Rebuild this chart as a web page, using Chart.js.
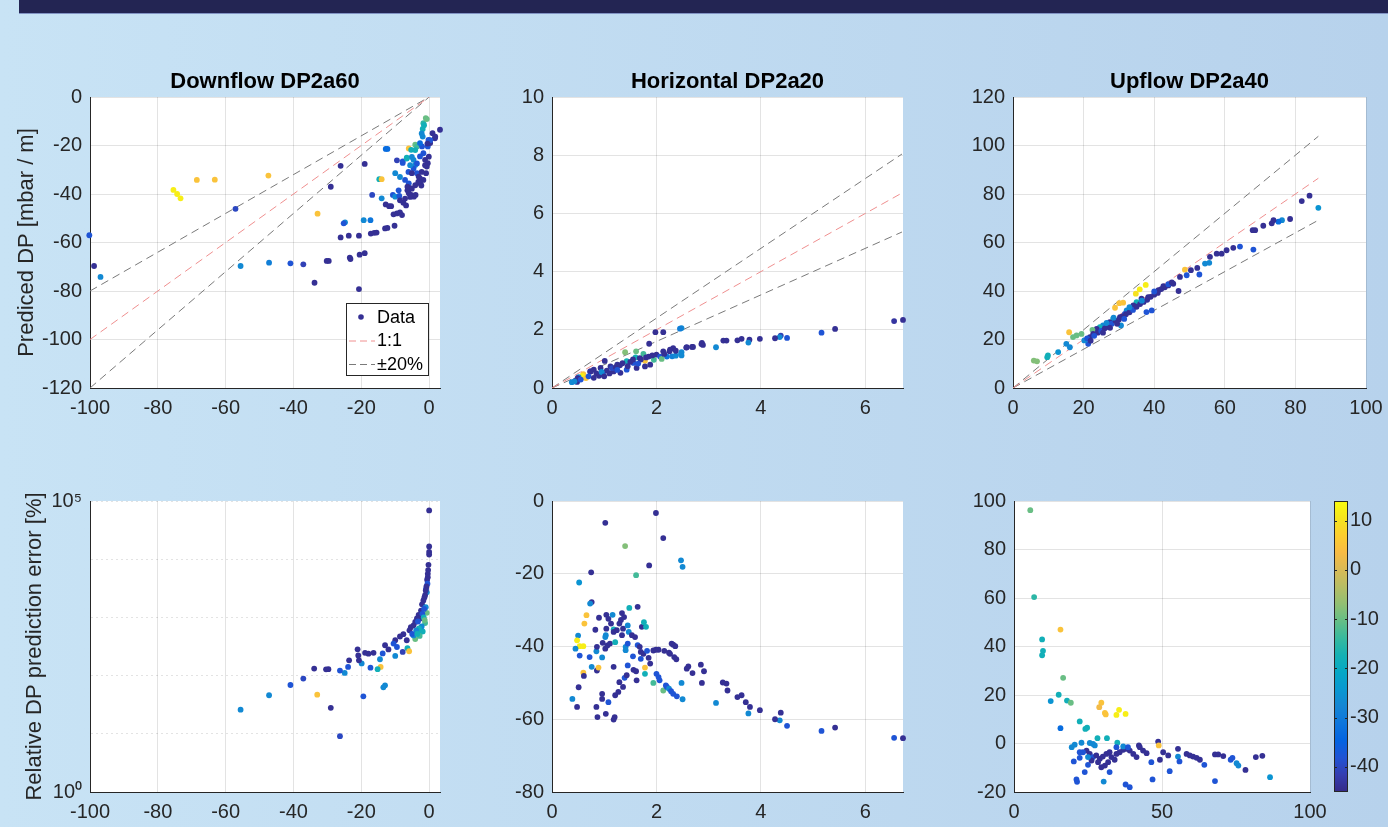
<!DOCTYPE html>
<html>
<head>
<meta charset="utf-8">
<script src="https://cdn.jsdelivr.net/npm/chart.js@4.4.0/dist/chart.umd.min.js"></script>
<style>
html, body { margin: 0; overflow: hidden; }
body {
    width: 1388px; height: 827px; position: relative;
    background: linear-gradient(to right, #c8e3f5, #b7d2ec);
}
#bar { position: absolute; left: 19px; top: 0; width: 1369px; height: 13px; background: #232553; border-bottom: 1px solid #8193c4; }
canvas { position: absolute; }
</style>
</head>
<body>
<div id="bar"></div>
<script>
// ---- data: [measured, predicted or error, colour value] ----
const colorLimits = [-45.1, 14];
const colorTicks = [-40, -30, -20, -10, 0, 10];
const panelTitles = ['Downflow DP2a60', 'Horizontal DP2a20', 'Upflow DP2a40'];
const yTitles = ['Prediced DP [mbar / m]', 'Relative DP prediction error [%]'];
const legendLabels = ['Data', '1:1', '\u00b120%'];
const errTicks = [1, 10, 100, 1000, 10000, 100000];

const downRefX = [-100, 0], downRef11 = [-100, 0], downRefHi = [-120, 0], downRefLo = [-80, 0];
const horRefX = [0, 6.7], horRef11 = [0, 6.7], horRefHi = [0, 8.04], horRefLo = [0, 5.36];
const upRefX = [0, 86.5], upRef11 = [0, 86.5], upRefHi = [0, 103.8], upRefLo = [0, 69.2];

const downPred = [
    [-100.2,-57,-38],[-98.8,-69.7,-44],[-96.9,-74.2,-27],[-75.4,-38.3,12],[-74.3,-40,12],[-73.3,-41.8,12],
    [-68.5,-34.2,5],[-63.2,-34.1,5],[-47.4,-32.4,5],[-57.1,-46.1,-40],[-55.6,-69.7,-27],[-47.2,-68.3,-29],
    [-40.9,-68.6,-38],[-37.1,-69,-41],[-33.8,-76.6,-44],[-32.9,-48.1,5],[-30.2,-67.6,-44],[-29.6,-67.6,-44],
    [-29,-37,-44],[-26.1,-28.4,-44],[-26.1,-57.9,-44],[-24.8,-51.7,-27],[-25.2,-52.1,-38],[-23.7,-57.2,-44],
    [-23.4,-66.2,-44],[-23.2,-66.8,-44],[-20.7,-57.2,-44],[-20.5,-65,-44],[-19,-64.4,-44],[-20.7,-79.2,-44],
    [-19,-27.6,-44],[-19.3,-50.8,-27],[-17.3,-50.8,-31],[-16.8,-40.4,-40],[-17.2,-56.3,-44],[-16.2,-56,-44],
    [-15.5,-55.9,-44],[-14.7,-33.9,-18],[-14,-33.9,5],[-14,-41.8,-27],[-12.8,-21.4,-33],[-12.3,-21.4,-33],
    [-13,-54.2,-44],[-12.3,-54,-44],[-12.8,-44.3,-44],[-11.8,-45,-44],[-11.2,-45,-44],[-10.2,-53.1,-44],
    [-10.7,-40.4,-38],[-10,-31.4,-27],[-10,-41.1,-27],[-8.8,-40.8,-38],[-10.5,-48.4,-44],[-9.5,-48,-44],
    [-8.6,-47.6,-44],[-8,-48.7,-44],[-7.6,-43.6,-44],[-7.8,-26.6,-38],[-7.1,-34.2,-38],[-6.6,-25,-18],
    [-6,-21.2,5],[-6,-35.6,-38],[-6.4,-37,-44],[-5.6,-37.6,-44],[-6,-39.7,-44],[-5.3,-40.4,-44],
    [-4.5,-41.1,-44],[-4,-40.4,-44],[-5.3,-21.8,-18],[-4.1,-19.7,-10],[-3.6,-20.4,-13],[-4.6,-25.9,-27],
    [-4.1,-28,-27],[-4.6,-29.5,-38],[-3.6,-31.4,-38],[-3.1,-32.8,-44],[-2.8,-34.2,-44],[-2.6,-35.6,-44],
    [-2.3,-36.5,-44],[-1.7,-34.2,-44],[-1.9,-16.3,-27],[-1.9,-13.2,-18],[-1.7,-10.8,-15],[-1,-8.7,-10],
    [-0.7,-9.1,-10],[-2.1,-20.4,-38],[-1.7,-23.2,-38],[-1.2,-25.9,-44],[-0.7,-28.7,-44],[-0.9,-31.4,-44],
    [-0.4,-20.4,-38],[-0.2,-17.7,-38],[-0.1,-24.6,-44],[-0.4,-27.3,-44],[0.3,-19,-44],[1,-14.9,-44],
    [1.7,-17,-44],[3.2,-13.5,-44],[1.8,-16.4,-44],[0.3,-17.8,-38],[-1.5,-11.6,-18],[-2.2,-15,-27],
    [-2.7,-19,-33],[-4.1,-21.9,-18],[-5.1,-24.7,-27],[-6.6,-25.4,-18],[-7.8,-27.2,-38],[-5.6,-28.1,-27],
    [-6.1,-30.9,-38],[-5.1,-31.4,-44],[-3.6,-27.4,-38],[-2.7,-24.5,-38],[-0.5,-19.2,-44],[-1.2,-28.1,-44],
    [-2.2,-30.9,-44],[-2.7,-33.6,-44],[-3.2,-35,-44],[-4.1,-36.4,-44],[-5.1,-37.8,-44],[-6.4,-38.5,-44],
    [-5.6,-41.2,-44],[-7.1,-41.9,-44],[-8.6,-42.6,-44],[-6.8,-44.7,-44],[-9,-38.5,-38],[-8.6,-33,-27],
    [-9.5,-26.1,-41]
];

const horPred = [
    [6.72,2.34,-44],[6.55,2.3,-43],[5.42,2.03,-44],[5.16,1.9,-38],[4.5,1.72,-38],[4.38,1.8,-41],
    [4.36,1.75,-27],[4.27,1.71,-44],[3.98,1.69,-44],[3.78,1.66,-44],[3.76,1.56,-27],[3.63,1.69,-44],
    [3.55,1.64,-44],[3.34,1.63,-44],[3.28,1.63,-44],[3.14,1.4,-27],[2.87,1.55,-44],[2.89,1.48,-44],
    [2.68,1.41,-44],[2.58,1.4,-44],[2.48,2.06,-27],[2.45,2.04,-29],[2.48,1.23,-27],[2.48,1.12,-27],
    [2.32,1.37,-44],[2.26,1.32,-44],[2.13,1.26,-44],[2.13,1.92,-44],[1.98,1.92,-44],[1.86,1.52,-44],
    [2.0,1.15,-44],[2.07,1.08,-38],[2.2,1.08,-31],[2.3,1.09,-29],[2.37,1.11,-27],[1.95,0.97,-13],
    [2.1,1.0,-10],[1.78,0.94,5],[1.75,1.17,-13],[1.4,1.23,-8],[1.61,1.26,-10],[1.6,1.05,-18],
    [1.01,0.93,-44],[0.73,0.57,-44],[0.6,0.48,5],[0.62,0.37,5],[0.58,0.42,12],[0.51,0.37,-27],
    [0.38,0.2,-27],[0.45,0.25,-44],[0.48,0.21,-44],[2.86,1.51,-44],[2.7,1.41,-44],[2.57,1.39,-44],
    [2.37,1.28,-44],[2.25,1.26,-44],[2.15,1.17,-44],[2.47,1.17,-27],[1.68,1.03,-44],[1.56,0.86,-38],
    [1.43,0.92,-18],[1.25,0.8,-44],[1.12,0.74,-44],[0.93,0.69,-44],[0.8,0.63,-44],[0.74,0.57,-44],
    [0.65,0.34,5],[0.49,0.34,-44],[0.43,0.23,-27],[0.55,0.29,-38],[0.98,0.46,-38],[1.18,0.57,-44],
    [1.31,0.52,-44],[1.43,0.63,-38],[1.62,0.69,-44],[1.78,0.74,-44],[1.88,0.8,-44],[0.85,0.5,-44],
    [0.9,0.42,-44],[1.05,0.6,-44],[1.15,0.68,-40],[1.22,0.72,-44],[1.3,0.78,-44],[1.35,0.85,-44],
    [1.5,0.9,-44],[1.55,0.98,-44],[1.7,0.98,-44],[1.8,1.05,-44],[1.85,1.08,-44],[1.92,1.12,-44],
    [0.7,0.4,-38],[0.95,0.55,-27],[1.1,0.5,-44],[1.25,0.62,-38],[1.45,0.75,-44],[1.65,0.84,-38],
    [0.8,0.35,-44],[1.0,0.4,-44]
];

const upPred = [
    [86.5,74.3,-25],[84,79.3,-44],[81.8,77.1,-44],[78.5,69.7,-44],[76.2,69.2,-27],[75.2,68.6,-33],
    [73.8,69.2,-44],[73.3,67.9,-44],[70.9,66.9,-44],[68.6,65.1,-44],[67.9,65.1,-44],[68.1,57.1,-38],
    [64.3,58.3,-38],[62.4,57.8,-44],[60.5,56.8,-44],[59.1,55.4,-44],[57.7,55.4,-44],[55.8,54.1,-44],
    [55.6,51.6,-27],[54.4,51.3,-27],[52.8,46.8,-38],[52.2,49.5,-44],[50.4,48.6,-44],[48.7,48.8,5],
    [49.2,46.5,-38],[47.3,45.8,-44],[46.9,40,-44],[45.4,43,-44],[44,42.3,-44],[42.6,42,-44],
    [41.2,40.3,-44],[39.3,32,-38],[37.8,31.3,-38],[37.6,42.5,12],[35.9,40.7,12],[34.8,38.9,10],
    [38.3,37.5,-44],[36.4,36.8,-44],[35,35.4,-18],[34.1,34.1,-44],[31.2,35.2,5],[30.1,35,5],
    [28.9,33.1,5],[32.2,32,-27],[31.7,30.6,-38],[30.3,29.2,-44],[28.4,28.6,-18],[30.6,25.8,-27],
    [27.4,27.2,-44],[25.5,25.8,-27],[24.6,25.1,-18],[23.7,24.4,-44],[22.5,24,-10],[22.7,22.3,-44],
    [21.8,21,-44],[21.3,18.2,-38],[20.2,19.6,-27],[19.4,22.3,-10],[18,21.7,-10],[17,21,-10],
    [15.9,23,5],[15.1,18.2,-27],[16.1,16.8,-27],[12.8,14.8,-25],[9.9,13.4,-18],[9.7,12.7,-18],
    [6.8,11,-8],[5.9,11.3,-8],[24,22.8,-44],[25,23.5,-38],[26,24.6,-44],[27,25.2,-44],
    [28,26.5,-38],[29,27.8,-44],[30,28.2,-44],[31,29.5,-44],[32,30.4,-44],[33,31.2,-44],
    [34,32.2,-38],[35,33.5,-44],[36,34.6,-44],[37,35.5,-44],[38,36.4,-44],[39,37.6,-44],
    [40,38.5,-44],[41,39.2,-44],[42,40.8,-44],[43,41.5,-44],[44,42.8,-38],[45,43.5,-44],
    [26.5,26.8,-27],[28.5,29,-27],[33,33.3,-27],[23,21.5,-38],[25.5,22.8,-44],[27.5,24.8,-44],
    [29.5,26.5,-44],[31.5,28.5,-38],[21,20.5,-38],[22,19.5,-44],[36.5,36,-27],[40,39.8,-38]
];

const downErr = [
    [0,69000,-44],[0,16600,-44],[0,13300,-44],[0,12000,-44],[-0.4,5600,-44],[-0.4,4900,-44],
    [-0.6,4450,-44],[-0.9,3100,-38],[-0.7,2700,-27],[-1.2,2400,-44],[-1.7,1960,-44],[-2.1,1680,-44],
    [-2.4,1310,-44],[-0.7,1200,-10],[-1.2,800,-13],[-3.1,1100,-44],[-3.6,960,-44],[-4.1,835,-44],
    [-4.6,730,-44],[-5.4,680,-44],[-5.8,600,-44],[-2.4,565,-18],[-1.9,575,-18],[-4.1,425,-10],
    [-4.6,490,-27],[-6.6,405,-44],[-7.6,515,-44],[-8.6,470,-44],[-6.4,295,-18],[-5.9,262,5],
    [-7.8,255,-41],[-10,405,-44],[-10.5,355,-38],[-9.5,310,-38],[-10,218,-27],[-12,282,-44],
    [-13,332,-44],[-13.7,240,-38],[-14.5,191,-27],[-14.3,141,5],[-15.2,129,-18],[-13,68,-27],
    [-13.5,63,-27],[-16.4,246,-44],[-17.9,238,-44],[-18.9,246,-44],[-19.9,162,-27],[-20.7,183,-44],
    [-20.9,222,-44],[-21.1,283,-44],[-17.3,137,-38],[-19.4,44,-38],[-23.6,183,-44],[-23.9,141,-38],
    [-24.9,111,-27],[-26.3,122,-38],[-29,28,-44],[-26.3,9.1,-40],[-29.7,129,-44],[-30.4,128,-44],
    [-33.9,132,-44],[-33,47,5],[-37.1,89,-40],[-40.9,69,-38],[-47.2,46,-27],[-55.6,26,-27],
    [-0.2,8000,-44],[-0.3,6500,-44],[-0.5,3800,-38],[-0.8,3400,-44],[-1.0,2900,-44],[-1.4,2200,-44],
    [-1.0,1500,-27],[-1.5,1400,-38],[-2.0,1150,-38],[-2.8,950,-44],[-3.3,850,-38],[-1.6,1000,-18],
    [-2.2,700,-27],[-3.0,650,-18],[-3.8,600,-27],[-5.0,520,-38],[-1.3,900,-10],[-2.8,480,-13],
    [-3.5,520,-18]
];

const horErr = [
    [6.72,-65.2,-44],[6.55,-65.1,-38],[5.42,-62.3,-44],[5.16,-63.2,-38],[4.5,-61.8,-38],[4.38,-58.2,-44],
    [4.36,-60.3,-27],[4.27,-60,-44],[3.98,-57.5,-44],[3.79,-56.6,-44],[3.76,-58.4,-27],[3.71,-55.3,-44],
    [3.63,-53.4,-44],[3.55,-53.9,-44],[3.36,-52.1,-44],[3.34,-50.2,-44],[3.27,-49.9,-44],[3.14,-55.5,-27],
    [2.87,-50,-44],[2.91,-46.8,-44],[2.85,-45,-44],[2.69,-47.3,-44],[2.61,-45.5,-44],[2.58,-46.1,-44],
    [2.48,-50,-27],[2.5,-54.5,-27],[2.47,-16.3,-27],[2.5,-18.1,-27],[2.13,-10.2,-44],[1.99,-3.3,-44],
    [1.86,-17.7,-44],[1.02,-6,-44],[1.4,-12.4,-8],[1.61,-20.4,-13],[0.75,-19.6,-44],[0.52,-22.4,-25],
    [0.76,-27.8,-44],[0.73,-28.2,-27],[1.48,-29.4,-18],[1.64,-29.1,-44],[0.66,-31.4,5],[0.62,-33.7,5],
    [0.5,-37,-27],[0.48,-38.3,12],[0.53,-39.9,12],[0.6,-39.9,12],[0.45,-40.6,-27],[0.53,-42.5,-38],
    [0.51,-51.2,-44],[0.39,-54.4,-27],[0.48,-56.6,-44],[0.6,-47.2,5],[0.61,-48.1,-44],[0.72,-42.9,-38],
    [0.76,-45.6,-27],[0.83,-35.4,-44],[0.85,-41.3,-27],[0.86,-46.6,-44],[0.89,-45.8,5],[0.86,-40.1,-44],
    [0.9,-32.1,-44],[0.85,-56.6,-44],[0.87,-59.4,-44],[0.96,-43,-27],[0.96,-53,-44],[0.96,-54.4,-44],
    [0.97,-39,-44],[1.02,-40.6,-44],[1.04,-31.3,-44],[1.03,-58.5,-44],[1.08,-55.3,-38],[1.08,-32.4,-44],
    [1.04,-35.1,-44],[1.03,-36.9,-27],[1.02,-37.4,-27],[1.06,-39.7,-44],[1.11,-39.2,-44],[1.16,-31.3,-27],
    [1.13,-33.7,-44],[1.18,-35.3,-18],[1.21,-38.8,-18],[1.18,-36,-44],[1.18,-45.6,-44],[1.2,-59.4,-44],
    [1.18,-60.1,-44],[1.21,-53.4,-44],[1.27,-52.5,-44],[1.29,-49.8,-44],[1.24,-35.5,-44],[1.29,-33.7,-44],
    [1.32,-32.7,-44],[1.34,-30.8,-44],[1.36,-35.1,-44],[1.38,-31.9,-44],[1.34,-36.9,-44],[1.36,-51.1,-44],
    [1.39,-48.6,-38],[1.41,-40.1,-27],[1.41,-41,-27],[1.43,-47.9,-44],[1.45,-34.2,-27],[1.45,-45.2,-38],
    [1.45,-39.2,-38],[1.47,-36,-27],[1.53,-36.9,-44],[1.55,-42.7,-38],[1.56,-46.4,-44],[1.59,-37.4,-44],
    [1.61,-46.8,-44],[1.62,-49.3,-44],[1.64,-39.6,-38],[1.68,-40.1,-44],[1.7,-41.5,-44],[1.72,-34.6,-44],
    [1.76,-33.3,-18],[1.8,-34.6,-18],[1.7,-43.4,-38],[1.75,-42,-44],[1.78,-45.8,5],[1.78,-47.5,-18],
    [1.82,-41.2,-38],[1.85,-43.1,-44],[1.88,-44.7,-44],[1.94,-41.1,-44],[1.99,-40.9,-44],[2.04,-40.9,-44],
    [1.94,-50,-13],[2.0,-47.5,-38],[2.04,-48.4,-38],[2.06,-49.3,-38],[2.13,-52.1,-10],[2.15,-41.2,-44],
    [2.18,-50.7,-38],[2.2,-51.1,-38],[2.24,-51.6,-27],[2.24,-41.7,-44],[2.26,-42,-44],[2.29,-39.2,-44],
    [2.32,-39.5,-44],[2.36,-39.9,-44],[2.34,-42.9,-44],[2.38,-43.5,-44],[2.28,-52.3,-38],[2.32,-53,-38],
    [2.39,-53.7,-38]
];

const upErr = [
    [5.5,96.2,-10],[6.8,60.4,-15],[9.5,42.9,-18],[9.8,38.2,-18],[9.5,36.4,-18],[15.7,47,5],
    [16.6,27.1,-10],[12.4,17.5,-25],[15.1,20.1,-18],[17.9,17.7,-18],[19.2,16.8,-10],[15.7,6.3,-33],
    [22.2,9.1,-18],[24.1,6,-18],[24.7,6.5,-18],[29.5,16.8,5],[28.8,15,3],[30.7,12.6,5],
    [31,12,5],[34.6,11.8,12],[35.5,13.9,12],[37.7,12.2,12],[28.2,2.2,-18],[31.4,2.2,-18],
    [34.9,0.3,-18],[48.7,0.8,-44],[48.9,-0.8,5],[42.2,-0.8,-44],[55.4,-2.2,-44],[55.4,-5.4,-27],
    [55.9,-7.4,-38],[52.6,-11.4,-38],[46.8,-14.8,-38],[37.7,-16.9,-38],[39.1,-18,-38],[30.3,-15.7,-27],
    [32.3,-11.8,-38],[23.9,-11.8,-38],[21.1,-14.8,-38],[21.3,-15.8,-38],[20.2,-7.4,-38],[19.5,-1.5,-27],
    [20.5,-0.5,-27],[22.8,0.3,-27],[25.6,0.2,-27],[26.7,-0.2,-27],[27.3,-0.8,-27],[22.2,-5.9,-38],
    [25,-8.8,-38],[29.5,-9.8,-44],[30.7,-9.1,-44],[49.3,-6.7,-44],[46.4,-7.7,-38],[50.4,-3.6,-44],
    [52.1,-4.9,-44],[58.3,-4.3,-44],[59.4,-4.9,-44],[60.5,-5.4,-44],[61.7,-5.9,-44],[62.8,-6.7,-44],
    [64.3,-8.8,-38],[67.9,-15.5,-38],[67.9,-4.5,-44],[69,-4.5,-44],[70.7,-5.2,-44],[73.2,-6.7,-38],
    [73.8,-5.9,-38],[75.2,-8.1,-27],[75.8,-9.1,-27],[78.2,-10.9,-44],[81.7,-5.6,-44],[83.9,-5.1,-44],
    [86.5,-13.9,-25],[24.5,-2.9,-44],[25.6,-4.3,-44],[26.7,-5.6,-38],[27.8,-4.9,-44],[29,-6.3,-44],
    [30,-5.4,-44],[31.2,-4.3,-44],[32.3,-3.6,-44],[32.9,-5.6,-44],[34,-6.7,-44],[34.6,-4.3,-44],
    [35.7,-3.6,-44],[36.9,-2.6,-44],[38,-2.2,-44],[39.1,-2.9,-44],[40.3,-4.3,-44],[41.4,-5.6,-44],
    [42.5,-1.5,-44],[43.6,-2.9,-44],[44.8,-4,-44],[34.6,-1.5,-38],[36.9,-1.2,-27],[38.5,-1.5,-38],
    [23.3,-3.6,-38],[26.2,-7,-44],[28.4,-7.7,-44],[31.8,-7.7,-44],[25,-5.6,-27],[22.2,-3.6,-38]
];

// ---- styling helpers ----
const FONT = '"Liberation Sans", Arial, Helvetica, sans-serif';
const INK = '#262626';
const GRID = 'rgba(38,38,38,0.13)';
// parula, sampled
const parulaStops = [
    '#352a87', '#353db0', '#2053d4', '#0363e1', '#0d75dc', '#1485d4', '#0998d1', '#06a7c6',
    '#15b1b4', '#38b99e', '#65be86', '#92bf73', '#b7bd64', '#d9ba56', '#f8bb44', '#fcce2e',
    '#f5e41d', '#f9fb0e'
];

function hexRgb(h) {
    return [parseInt(h.substr(1, 2), 16), parseInt(h.substr(3, 2), 16), parseInt(h.substr(5, 2), 16)];
}

function parula(v) {
    let t = (v - colorLimits[0]) / (colorLimits[1] - colorLimits[0]);
    t = Math.max(0, Math.min(1, t));
    const n = parulaStops.length - 1;
    const i = Math.min(n - 1, Math.floor(t * n));
    const f = t * n - i;
    const a = hexRgb(parulaStops[i]), b = hexRgb(parulaStops[i + 1]);
    const c = a.map((ch, k) => Math.round(ch + (b[k] - ch) * f));
    return 'rgb(' + c.join(',') + ')';
}

// white plot background, like a MATLAB axes
const whiteArea = {
    id: 'whiteArea',
    beforeDraw(chart) {
        const a = chart.chartArea, ctx = chart.ctx;
        ctx.save();
        ctx.fillStyle = '#ffffff';
        ctx.fillRect(a.left, a.top, a.right - a.left, a.bottom - a.top);
        ctx.restore();
    }
};

// legend box drawn inside the plot area (bottom right)
const legendBox = {
    id: 'legendBox',
    afterDatasetsDraw(chart, args, opts) {
        if (!opts.items) return;
        const ctx = chart.ctx, a = chart.chartArea;
        const w = 82, h = 72;
        const x0 = a.right - 12 - w, y0 = a.bottom - 13 - h;
        ctx.save();
        ctx.fillStyle = '#ffffff';
        ctx.fillRect(x0, y0, w, h);
        ctx.strokeStyle = INK;
        ctx.lineWidth = 1;
        ctx.strokeRect(x0 + 0.5, y0 + 0.5, w, h);
        ctx.font = '18px ' + FONT;
        ctx.textBaseline = 'middle';
        ctx.textAlign = 'left';
        opts.items.forEach((it, i) => {
            const y = y0 + 14 + i * 23.5;
            if (it.dot) {
                ctx.fillStyle = it.color;
                ctx.beginPath();
                ctx.arc(x0 + 15, y, 2.8, 0, Math.PI * 2);
                ctx.fill();
            } else {
                ctx.strokeStyle = it.color;
                ctx.setLineDash([7, 4]);
                ctx.beginPath();
                ctx.moveTo(x0 + 3, y + 0.5);
                ctx.lineTo(x0 + 29, y + 0.5);
                ctx.stroke();
                ctx.setLineDash([]);
            }
            ctx.fillStyle = '#000000';
            ctx.fillText(it.label, x0 + 31, y + 1);
        });
        ctx.restore();
    }
};

function refLine(xs, ys, color) {
    return {
        type: 'line',
        data: xs.map((x, i) => ({ x: x, y: ys[i] })),
        borderColor: color, borderWidth: 1, borderDash: [8, 5],
        pointRadius: 0, fill: false, tension: 0
    };
}

function tickFont() { return { family: FONT, size: 20 }; }

function makePanel(o) {
    const [l, t, r, b] = o.area;
    const side = 90, below = 40, above = o.title ? 50 : 40;
    const cv = document.createElement('canvas');
    cv.width = r - l + 2 * side;
    cv.height = b - t + above + below;
    cv.style.left = (l - side) + 'px';
    cv.style.top = (t - above) + 'px';
    document.body.appendChild(cv);

    const datasets = [{
        data: o.points.map(p => ({ x: p[0], y: p[1] })),
        pointBackgroundColor: o.points.map(p => parula(p[2])),
        pointBorderWidth: 0,
        pointRadius: 2.9,
        clip: false
    }];
    if (o.refs) {
        datasets.push(refLine(o.refs.x, o.refs.one, '#f09090'));
        datasets.push(refLine(o.refs.x, o.refs.hi, '#7a7a7a'));
        datasets.push(refLine(o.refs.x, o.refs.lo, '#7a7a7a'));
    }

    const yAxis = Object.assign({
        type: 'linear',
        min: o.y[0], max: o.y[1],
        afterFit: s => { s.width = side; },
        ticks: { stepSize: o.y[2], includeBounds: false, color: INK, font: tickFont(), padding: 8 },
        grid: { color: GRID, drawTicks: false },
        border: { color: INK, width: 1 },
        title: o.yTitle ? {
            display: true, text: o.yTitle, color: INK,
            font: { family: FONT, size: 22 }, padding: { top: o.yTitlePad, bottom: 0 }
        } : { display: false }
    }, o.yExtra || {});

    new Chart(cv, {
        type: 'scatter',
        data: { datasets: datasets },
        options: {
            responsive: false,
            animation: false,
            events: [],
            layout: { padding: { left: 0, right: side, top: o.title ? above - 28.4 : above, bottom: 0 } },
            plugins: {
                legend: { display: false },
                tooltip: { enabled: false },
                title: o.title ? {
                    display: true, text: o.title, color: '#000000', fullSize: false,
                    font: { family: FONT, size: 22, weight: 'bold' },
                    padding: { top: 0, bottom: 2 }
                } : { display: false },
                legendBox: o.legend || {}
            },
            scales: {
                x: {
                    type: 'linear',
                    min: o.x[0], max: o.x[1],
                    afterFit: s => { s.height = below; },
                    ticks: { stepSize: o.x[2], includeBounds: false, color: INK, font: tickFont(), padding: 8, maxRotation: 0, autoSkip: false },
                    grid: { color: GRID, drawTicks: false },
                    border: { color: INK, width: 1 }
                },
                y: yAxis
            }
        },
        plugins: [whiteArea, legendBox]
    });
}

const dotColor = parula(-44);

makePanel({
    area: [90, 97, 440, 388], x: [-100, 3.2, 20], y: [-120, 0, 20],
    points: downPred, title: panelTitles[0], yTitle: yTitles[0], yTitlePad: 13.8,
    refs: { x: downRefX, one: downRef11, hi: downRefHi, lo: downRefLo },
    legend: { items: [
        { label: legendLabels[0], dot: true, color: dotColor },
        { label: legendLabels[1], color: '#f09090' },
        { label: legendLabels[2], color: '#7a7a7a' }
    ] }
});
makePanel({
    area: [552, 97, 903, 388], x: [0, 6.72, 2], y: [0, 10, 2],
    points: horPred, title: panelTitles[1],
    refs: { x: horRefX, one: horRef11, hi: horRefHi, lo: horRefLo }
});
makePanel({
    area: [1013, 97, 1366, 388], x: [0, 100, 20], y: [0, 120, 20],
    points: upPred, title: panelTitles[2],
    refs: { x: upRefX, one: upRef11, hi: upRefHi, lo: upRefLo }
});
makePanel({
    area: [90, 501, 440, 792], x: [-100, 3.2, 20], y: [1, 100000, 1],
    points: downErr, yTitle: yTitles[1], yTitlePad: 21.8,
    yExtra: {
        type: 'logarithmic',
        afterBuildTicks: s => { s.ticks = errTicks.map(v => ({ value: v })); },
        ticks: {
            color: INK, font: tickFont(), padding: 8,
            callback: v => (v === 1 ? '10\u2070' : v === 100000 ? '10\u2075' : '')
        },
        border: { color: INK, width: 1, dash: [2, 3] }
    }
});
makePanel({
    area: [552, 501, 903, 792], x: [0, 6.72, 2], y: [-80, 0, 20],
    points: horErr
});
makePanel({
    area: [1014, 501, 1310, 792], x: [0, 100, 50], y: [-20, 100, 20],
    points: upErr
});

// ---- colour bar ----
const colorbar = {
    id: 'colorbar',
    beforeDatasetsDraw(chart) {
        const a = chart.chartArea, ctx = chart.ctx, ys = chart.scales.y;
        const g = ctx.createLinearGradient(0, a.bottom, 0, a.top);
        parulaStops.forEach((c, i) => g.addColorStop(i / (parulaStops.length - 1), c));
        ctx.save();
        ctx.fillStyle = g;
        ctx.fillRect(a.left, a.top, a.right - a.left, a.bottom - a.top);
        ctx.strokeStyle = INK;
        ctx.lineWidth = 1;
        ctx.strokeRect(a.left + 0.5, a.top + 0.5, a.right - a.left - 1, a.bottom - a.top - 1);
        ys.ticks.forEach(tk => {
            const y = Math.round(ys.getPixelForValue(tk.value)) + 0.5;
            ctx.beginPath();
            ctx.moveTo(a.left, y); ctx.lineTo(a.left + 3, y);
            ctx.moveTo(a.right - 3, y); ctx.lineTo(a.right, y);
            ctx.stroke();
        });
        ctx.restore();
    }
};

const cb = document.createElement('canvas');
cb.width = 64; cb.height = 331;
cb.style.left = '1324px'; cb.style.top = '481px';
document.body.appendChild(cb);
new Chart(cb, {
    type: 'scatter',
    data: { datasets: [] },
    options: {
        responsive: false,
        animation: false,
        events: [],
        layout: { padding: { left: 10, right: 0, top: 20, bottom: 20 } },
        plugins: { legend: { display: false }, tooltip: { enabled: false } },
        scales: {
            x: { display: false, min: 0, max: 1 },
            y: {
                position: 'right',
                min: colorLimits[0], max: colorLimits[1],
                afterFit: s => { s.width = 40; },
                afterBuildTicks: s => { s.ticks = colorTicks.map(v => ({ value: v })); },
                ticks: { color: INK, font: tickFont(), padding: 2 },
                grid: { display: false, drawTicks: false },
                border: { display: false }
            }
        }
    },
    plugins: [colorbar]
});
</script>
</body>
</html>
